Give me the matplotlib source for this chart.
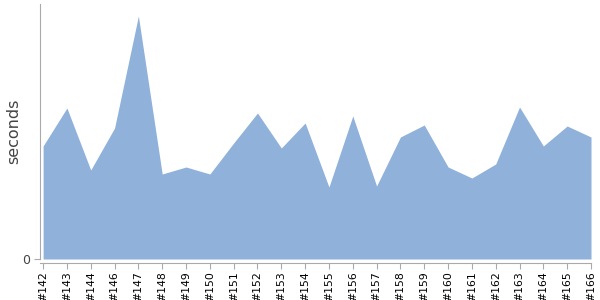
import numpy as np
import matplotlib.pyplot as plt

builds = ["#142", "#143", "#144", "#146", "#147", "#148", "#149", "#150",
          "#151", "#152", "#153", "#154", "#155", "#156", "#157", "#158",
          "#159", "#160", "#161", "#162", "#163", "#164", "#165", "#166"]
seconds = [113, 151, 89, 131, 243, 85, 92, 85, 116, 146, 111, 136,
           72, 143, 73, 122, 134, 92, 81, 95, 152, 113, 133, 122]

fig = plt.figure(figsize=(6, 3), dpi=100)
ax = fig.add_axes([40/600, 41/300, 551/600, 255/300])

x = np.arange(len(builds))
ax.fill_between(x, seconds, 0, color="#8fb1da", linewidth=0)

ax.set_xlim(-0.13, len(builds) - 1)
ax.set_ylim(0, 255)
ax.set_xticks(x, builds)
ax.set_yticks([0], ["0"])
ax.set_ylabel("seconds", fontsize=11.5, color="#444444")
ax.yaxis.set_label_coords(-0.034, 0.5)

for s in ["top", "right"]:
    ax.spines[s].set_visible(False)
ax.spines["left"].set_color("#aaaaaa")
ax.spines["bottom"].set_color("#aaaaaa")
ax.spines["bottom"].set_position(("outward", 3))
ax.tick_params(axis="x", colors="#aaaaaa", labelcolor="black", length=4, pad=2,
               labelrotation=90, labelsize=7.8)
ax.tick_params(axis="y", colors="#aaaaaa", labelcolor="#444444", length=4, pad=3,
               labelsize=9)

fig.savefig("out.png", dpi=100)
